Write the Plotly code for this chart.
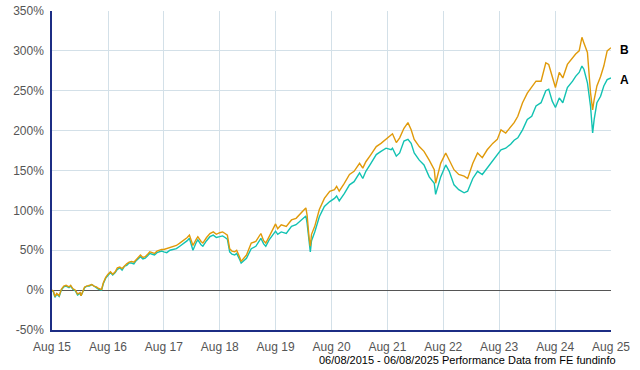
import plotly.graph_objects as go

dates = [
    "2015-08-06", "2015-08-15", "2015-08-25", "2015-09-06", "2015-09-22", "2015-10-06", "2015-10-22",
    "2015-11-06", "2015-11-25", "2015-12-06", "2015-12-20", "2016-01-06", "2016-01-20", "2016-02-06",
    "2016-02-12", "2016-03-06", "2016-03-20", "2016-04-06", "2016-04-22", "2016-05-06", "2016-05-22",
    "2016-06-06", "2016-06-25", "2016-07-06", "2016-07-22", "2016-08-06", "2016-08-22", "2016-09-06",
    "2016-09-22", "2016-10-06", "2016-10-22", "2016-11-06", "2016-11-22", "2016-12-06", "2016-12-22",
    "2017-01-06", "2017-01-22", "2017-02-06", "2017-02-22", "2017-03-06", "2017-03-22", "2017-04-06",
    "2017-04-22", "2017-05-06", "2017-05-22", "2017-06-06", "2017-06-22", "2017-07-06", "2017-07-22",
    "2017-08-06", "2017-08-25", "2017-09-15", "2017-10-06", "2017-10-27", "2017-11-18", "2017-12-12",
    "2018-01-06", "2018-01-20", "2018-02-06", "2018-02-12", "2018-03-06", "2018-03-16", "2018-04-06",
    "2018-04-18", "2018-05-12", "2018-06-03", "2018-06-25", "2018-07-15", "2018-08-06", "2018-08-25",
    "2018-09-10", "2018-09-25", "2018-10-10", "2018-10-25", "2018-11-12", "2018-11-25", "2018-12-15",
    "2018-12-24", "2019-01-28", "2019-02-15", "2019-02-28", "2019-03-30", "2019-05-02", "2019-05-20",
    "2019-06-03", "2019-06-25", "2019-07-15", "2019-08-06", "2019-08-20", "2019-09-12", "2019-10-15",
    "2019-11-18", "2019-12-18", "2020-01-20", "2020-02-10", "2020-02-20", "2020-02-28", "2020-03-12",
    "2020-03-20", "2020-03-28", "2020-04-18", "2020-05-18", "2020-06-20", "2020-07-25", "2020-08-25",
    "2020-09-08", "2020-09-25", "2020-10-28", "2020-12-01", "2020-12-31", "2021-02-05", "2021-02-26",
    "2021-03-18", "2021-04-20", "2021-05-25", "2021-06-25", "2021-07-28", "2021-08-30", "2021-09-08",
    "2021-10-03", "2021-10-25", "2021-11-22", "2021-12-18", "2022-01-08", "2022-01-28", "2022-03-02",
    "2022-04-02", "2022-05-06", "2022-06-08", "2022-06-17", "2022-07-20", "2022-08-22", "2022-09-14",
    "2022-10-15", "2022-11-15", "2022-12-20", "2023-01-12", "2023-02-15", "2023-03-18", "2023-04-18",
    "2023-05-20", "2023-06-25", "2023-07-25", "2023-08-18", "2023-09-18", "2023-10-20", "2023-11-12",
    "2023-12-06", "2024-01-06", "2024-02-06", "2024-03-06", "2024-04-03", "2024-05-06", "2024-06-06",
    "2024-06-25", "2024-07-18", "2024-08-08", "2024-09-02", "2024-09-25", "2024-10-25", "2024-11-28",
    "2024-12-18", "2025-01-10", "2025-01-28", "2025-02-10", "2025-03-05", "2025-03-25", "2025-04-08",
    "2025-04-18", "2025-05-06", "2025-05-30", "2025-06-20", "2025-07-12", "2025-08-06",
]

series_a = [
    0, -2, -9, -5, -8, 0, 4, 5, 3, 5, 1, -1, -6, -4, -7, 3, 5, 5, 7, 5, 3,
    1, 0, 8, 15, 19, 22, 19, 22, 26, 28, 25, 30, 31, 34, 34, 33, 37, 40, 42, 39, 40,
    43, 46, 45, 44, 47, 48, 49, 48, 47, 50, 51, 52, 55, 58, 62, 65, 55, 50, 60, 63, 57,
    55, 62, 67, 69, 66, 67, 68, 66, 64, 48, 45, 44, 46, 38, 34, 40, 48, 52, 55, 65, 58,
    55, 63, 68, 74, 70, 73, 71, 80, 82, 88, 92, 93, 84, 60, 48, 62, 73, 92, 105, 111, 115,
    118, 112, 121, 132, 136, 147, 140, 149, 159, 170, 174, 178, 176, 178, 168, 172, 187, 189,
    184, 172, 163, 157, 142, 134, 120, 142, 157, 149, 132, 126, 122, 124, 140, 149, 145, 153,
    163, 170, 176, 178, 183, 188, 191, 201, 214, 218, 231, 235, 250, 252, 237, 229, 241, 235,
    254, 262, 268, 273, 281, 277, 260, 231, 197, 214, 235, 243, 256, 264, 266,
]

series_b = [
    0, -1, -8, -4, -7, 1, 5, 6, 4, 6, 2, 0, -5, -3, -7, 4, 5, 6, 7, 5, 4,
    2, 1, 9, 16, 20, 23, 20, 23, 28, 29, 27, 31, 33, 35, 36, 35, 38, 42, 44, 41, 42,
    45, 48, 47, 46, 49, 50, 51, 51, 52, 54, 55, 56, 59, 62, 66, 69, 60, 56, 64, 67, 61,
    59, 66, 71, 73, 70, 72, 73, 71, 69, 52, 49, 48, 50, 41, 36, 44, 53, 59, 61, 71, 62,
    59, 67, 74, 83, 77, 82, 80, 88, 90, 96, 101, 103, 94, 66, 55, 70, 80, 101, 115, 124, 126,
    130, 124, 134, 145, 149, 159, 153, 161, 170, 180, 184, 189, 195, 196, 185, 191, 203, 210,
    201, 189, 180, 174, 163, 151, 134, 159, 172, 163, 151, 145, 143, 140, 159, 172, 166, 176,
    184, 189, 201, 197, 205, 210, 218, 235, 247, 254, 262, 262, 285, 283, 268, 254, 273, 266,
    283, 292, 296, 300, 317, 310, 298, 248, 226, 239, 256, 268, 281, 300, 304,
]

tick_dates = ["2015-08-06", "2016-08-06", "2017-08-06", "2018-08-06", "2019-08-06", "2020-08-06",
              "2021-08-06", "2022-08-06", "2023-08-06", "2024-08-06", "2025-08-06"]
tick_labels = ["Aug 15", "Aug 16", "Aug 17", "Aug 18", "Aug 19", "Aug 20",
               "Aug 21", "Aug 22", "Aug 23", "Aug 24", "Aug 25"]
y_ticks = [-50, 0, 50, 100, 150, 200, 250, 300, 350]
y_labels = ["-50%", "0%", "50%", "100%", "150%", "200%", "250%", "300%", "350%"]
series_names = ["A", "B"]
footer = "06/08/2015 - 06/08/2025 Performance Data from FE fundinfo"

fig = go.Figure()
fig.add_trace(go.Scatter(x=dates, y=series_a, mode="lines", name=series_names[0],
                         line=dict(color="#12C2B2", width=1.4)))
fig.add_trace(go.Scatter(x=dates, y=series_b, mode="lines", name=series_names[1],
                         line=dict(color="#E09A0A", width=1.4)))

for name, vals in zip(series_names, [series_a, series_b]):
    fig.add_annotation(x=1, xref="paper", y=vals[-1], yref="y", text="<b>%s</b>" % name,
                       showarrow=False, xanchor="left", xshift=7, yshift=-2,
                       font=dict(family="Liberation Sans, Arial", size=12, color="#000"))

fig.add_annotation(x=1, xref="paper", y=-(360 - 330) / 319, yref="paper", text=footer,
                   showarrow=False, xanchor="right", yanchor="middle", xshift=7,
                   font=dict(family="Liberation Sans, Arial", size=11, color="#000"))

fig.update_layout(
    width=640, height=370,
    margin=dict(l=52, r=29, t=11, b=40, autoexpand=False),
    paper_bgcolor="white", plot_bgcolor="white",
    showlegend=False,
    font=dict(family="Liberation Sans, Arial", size=12, color="#555"),
    xaxis=dict(range=["2015-08-06", "2025-08-06"], tickmode="array", tickvals=tick_dates,
               ticktext=tick_labels, automargin=False, ticklabelstandoff=5,
               showgrid=True, gridcolor="#D3E0E8", gridwidth=1,
               showline=True, linecolor="#1C2D84", linewidth=1.5,
               ticks="", zeroline=False, tickfont=dict(size=12, color="#555")),
    yaxis=dict(range=[-50, 350], tickmode="array", tickvals=y_ticks, ticktext=y_labels,
               automargin=False, ticklabelstandoff=4,
               showgrid=True, gridcolor="#D3E0E8", gridwidth=1,
               showline=True, linecolor="#1C2D84", linewidth=1.5,
               zeroline=True, zerolinecolor="#555555", zerolinewidth=1,
               ticks="", tickfont=dict(size=12, color="#555")),
)

fig.write_html("out.html", config={"displayModeBar": False},
               post_script="document.body.style.margin='0';document.body.style.padding='0';")
